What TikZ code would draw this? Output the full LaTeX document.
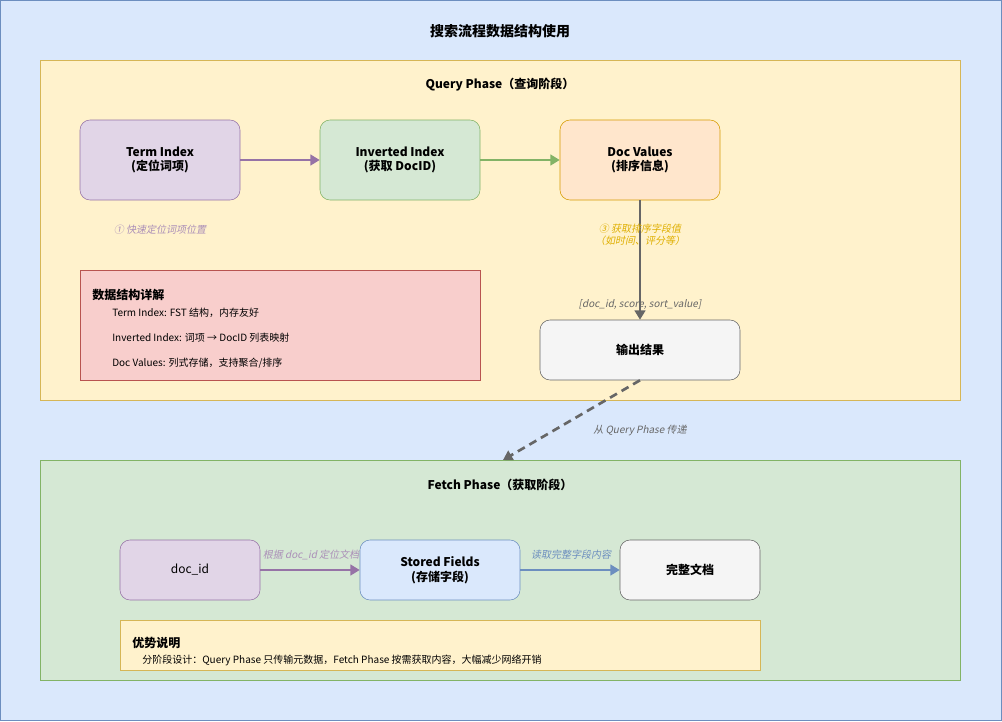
\documentclass[tikz,border=0pt]{standalone}
\usepackage{fontspec}
\setmainfont{Noto Sans CJK SC}
\newfontfamily\slfont{Noto Sans CJK SC}[FakeSlant=0.2]
\usetikzlibrary{arrows.meta}
\definecolor{bgblue}{HTML}{DAE8FC}\definecolor{bluestroke}{HTML}{6C8EBF}
\definecolor{yel}{HTML}{FFF2CC}\definecolor{yelstroke}{HTML}{D6B656}
\definecolor{purp}{HTML}{E1D5E7}\definecolor{purpstroke}{HTML}{9673A6}
\definecolor{grn}{HTML}{D5E8D4}\definecolor{grnstroke}{HTML}{82B366}
\definecolor{org}{HTML}{FFE6CC}\definecolor{orgstroke}{HTML}{D79B00}
\definecolor{red}{HTML}{F8CECC}\definecolor{redstroke}{HTML}{B85450}
\definecolor{gry}{HTML}{F5F5F5}\definecolor{grystroke}{HTML}{666666}
\tikzset{
  box/.style={draw, rounded corners=7.5pt, align=center, font=\fontsize{9}{11}\selectfont\bfseries, inner sep=0pt},
  cont/.style={draw},
  arr/.style={line width=2pt, -{Triangle[length=7pt,width=8pt]}},
  lab/.style={font=\fontsize{7.5}{9}\selectfont\slfont, align=center},
  txt/.style={font=\fontsize{7.5}{11}\selectfont, anchor=west, inner sep=0pt},
}
\begin{document}
\begin{tikzpicture}[x=0.75pt,y=-0.75pt]
\useasboundingbox (0,0) rectangle (1002,721);
\draw[fill=bgblue,draw=bluestroke] (0.5,0.5) rectangle (1001,720);
\node[font=\fontsize{10.5}{12}\selectfont\bfseries] (title) at (500,31) {搜索流程数据结构使用};
% Query
\draw[cont,fill=yel,draw=yelstroke] (40,60) rectangle (960,400);
\node[font=\fontsize{9}{11}\selectfont\bfseries] (qt) at (500,85) {Query Phase（查询阶段）};
\node[box,fill=purp,draw=purpstroke,minimum width=120pt,minimum height=60pt] (ti) at (160,160) {Term Index\\(定位词项)};
\node[box,fill=grn,draw=grnstroke,minimum width=120pt,minimum height=60pt] (ii) at (400,160) {Inverted Index\\(获取 DocID)};
\node[box,fill=org,draw=orgstroke,minimum width=120pt,minimum height=60pt] (dv) at (640,160) {Doc Values\\(排序信息)};
\draw[arr,draw=purpstroke] (ti) -- (ii);
\draw[arr,draw=grnstroke] (ii) -- (dv);
\node[lab,text=purpstroke!80] (l1) at (160,230) {① 快速定位词项位置};
\node[box,fill=gry,draw=grystroke,minimum width=150pt,minimum height=45pt] (out) at (640,350) {输出结果};
\draw[arr,draw=grystroke] (dv) -- (out);
\node[lab,text=orgstroke!80!yellow] (l3) at (640,235) {③ 获取排序字段值\\（如时间、评分等）};
\node[lab,text=grystroke,fill=yel,fill opacity=0,text opacity=1] (l4) at (640,304) {[doc\_id, score, sort\_value]};
\draw[fill=red,draw=redstroke] (80,270) rectangle (480,380);
\node[txt,font=\fontsize{9}{11}\selectfont\bfseries] (dh) at (92,295) {数据结构详解};
\node[txt] (d1) at (112,313) {Term Index: FST 结构，内存友好};
\node[txt] (d2) at (112,338) {Inverted Index: 词项 → DocID 列表映射};
\node[txt] (d3) at (112,363) {Doc Values: 列式存储，支持聚合/排序};
% Fetch
\draw[cont,fill=grn,draw=grnstroke] (40,460) rectangle (960,680);
\node[font=\fontsize{9}{11}\selectfont\bfseries] (ft) at (500,485) {Fetch Phase（获取阶段）};
\coordinate (fin) at (503,460);
\draw[arr,draw=grystroke,dashed,dash pattern=on 6pt off 4pt] (out.south) -- (fin);
\node[lab,text=grystroke] (l5) at (640,430) {从 Query Phase 传递};
\node[box,fill=purp,draw=purpstroke,minimum width=105pt,minimum height=45pt,font=\fontsize{9}{11}\selectfont] (di) at (190,570) {doc\_id};
\node[box,fill=bgblue,draw=bluestroke,minimum width=120pt,minimum height=45pt] (sf) at (440,570) {Stored Fields\\(存储字段)};
\node[box,fill=gry,draw=grystroke,minimum width=105pt,minimum height=45pt] (doc) at (690,570) {完整文档};
\draw[arr,draw=purpstroke] (di) -- (sf);
\draw[arr,draw=bluestroke] (sf) -- (doc);
\node[lab,text=purpstroke!80] (l6) at (311,555) {根据 doc\_id 定位文档};
\node[lab,text=bluestroke] (l7) at (571,555) {读取完整字段内容};
\draw[fill=yel,draw=yelstroke] (120,620) rectangle (760,670);
\node[txt,font=\fontsize{9}{11}\selectfont\bfseries] (ah) at (132,643) {优势说明};
\node[txt] (a1) at (142,660) {分阶段设计：Query Phase 只传输元数据，Fetch Phase 按需获取内容，大幅减少网络开销};
\end{tikzpicture}
\end{document}
